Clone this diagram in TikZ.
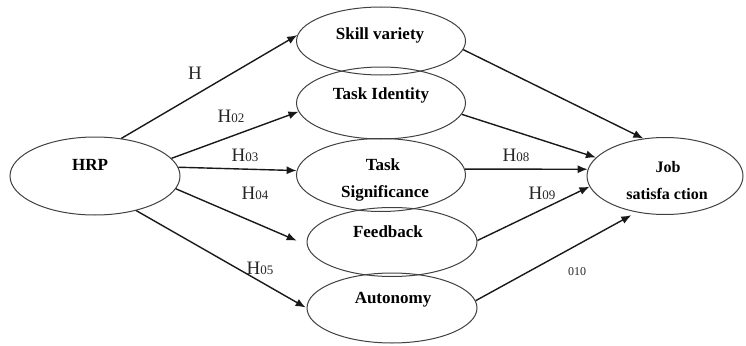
\documentclass[tikz,border=0pt]{standalone}
\usepackage{fontspec}
\setmainfont{Liberation Serif}
\usetikzlibrary{shapes.geometric,arrows.meta}
\begin{document}
\begin{tikzpicture}[x=1pt,y=-1pt,
  ell/.style={draw=black!75, line width=1pt, ellipse, inner sep=0pt},
  lbl/.style={font=\fontsize{17}{19}\selectfont\bfseries, inner sep=0pt},
  hl/.style={inner sep=0pt, text=black!85},
  arr/.style={draw=black!90, line width=1.4pt, -{Latex[length=10pt,width=8pt]}}]
\useasboundingbox (0,0) rectangle (746,345);
\newcommand{\hyp}[1]{{\fontsize{19}{19}\selectfont H}{\fontsize{13}{13}\selectfont #1}}
% ellipses
\node[ell, minimum width=170pt, minimum height=78pt] (hrp) at (95,176) {};
\node[ell, minimum width=169pt, minimum height=68pt] (sv) at (381,41) {};
\node[ell, minimum width=169pt, minimum height=72pt] (ti) at (381,103) {};
\node[ell, minimum width=169pt, minimum height=73pt] (ts) at (381,175) {};
\node[ell, minimum width=170pt, minimum height=69pt] (fb) at (392,242) {};
\node[ell, minimum width=170pt, minimum height=70pt] (au) at (392,308) {};
\node[ell, minimum width=156pt, minimum height=77pt] (js) at (665,176) {};
% texts
\node[lbl] (thrp) at (90,165) {HRP};
\node[lbl] (tsv) at (380,35) {Skill variety};
\node[lbl] (tti) at (381,95) {Task Identity};
\node[lbl] (tts1) at (383,165) {Task};
\node[lbl] (tts2) at (385,193) {Significance};
\node[lbl] (tfb) at (388,232) {Feedback};
\node[lbl] (tau) at (393,300) {Autonomy};
\node[lbl, font=\fontsize{16}{18}\selectfont\bfseries] (tjs1) at (668,167) {Job};
\node[lbl, font=\fontsize{16}{18}\selectfont\bfseries] (tjs2) at (667,194) {satisfa ction};
% left arrows
\draw[arr] (hrp.55) -- (sv.176);
\draw[arr] (hrp.13) -- (ti.186);
\draw[arr] (hrp.6) -- (ts.177);
\draw[arr, shorten >=11pt] (hrp.-9) -- (fb.182);
\draw[arr, shorten >=1pt] (hrp.-40) -- (au.180);
% right arrows
\draw[arr] (sv.-6) -- (js.120);
\draw[arr] (ti.-8) -- (js.165);
\draw[arr] (ts.4) -- (js.175);
\draw[arr] (fb.1) -- (js.188);
\draw[arr, shorten >=6pt] (au.5) -- (js.232);
% hypothesis labels
\node[hl] (h1) at (195,73) {{\fontsize{19}{19}\selectfont H}};
\node[hl] (h2) at (231,116) {\hyp{02}};
\node[hl] (h3) at (245,155) {\hyp{03}};
\node[hl] (h4) at (255,193) {\hyp{04}};
\node[hl] (h5) at (260,268) {\hyp{05}};
\node[hl] (h8) at (516,155) {\hyp{08}};
\node[hl] (h9) at (542,193) {\hyp{09}};
\node[hl, font=\fontsize{12}{12}\selectfont] (h10) at (577,272) {010};
\end{tikzpicture}
\end{document}
